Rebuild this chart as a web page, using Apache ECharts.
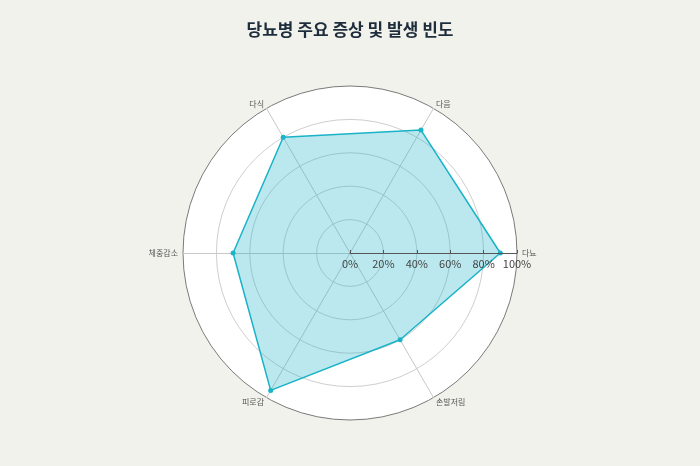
<!DOCTYPE html>
<html><head><meta charset="utf-8">
<script src="https://cdn.jsdelivr.net/npm/echarts@6/dist/echarts.min.js"></script>
<style>html,body{margin:0;padding:0;background:#f2f2ed;}#c{width:700px;height:466px;}</style>
</head><body><div id="c"></div>
<script>
const symptoms = ['다뇨', '다음', '다식', '체중감소', '피로감', '손발저림'];
const frequency = [90, 85, 80, 70, 95, 60];
const radiusTicks = [0, 20, 40, 60, 80, 100];
const titleText = '당뇨병 주요 증상 및 발생 빈도';

const font = '"Noto Sans CJK KR", "Noto Sans", sans-serif';
const chart = echarts.init(document.getElementById('c'));
chart.setOption({
  backgroundColor: '#f2f2ed',
  title: {
    text: titleText, left: 'center', top: 16,
    textStyle: { fontFamily: font, fontSize: 17, fontWeight: 'bold', color: '#1e2d3b' }
  },
  radar: {
    center: [350, 253], radius: 167, startAngle: 0, shape: 'circle',
    splitNumber: 5,
    indicator: symptoms.map(n => ({ name: n, min: 0, max: radiusTicks[radiusTicks.length - 1] })),
    axisName: { color: '#555', fontSize: 8, fontFamily: font },
    nameGap: 5,
    axisLine: { lineStyle: { color: '#c8c8c8', width: 1 } },
    splitLine: { lineStyle: { color: ['#cfcfcf', '#cfcfcf', '#cfcfcf', '#cfcfcf', '#cfcfcf', '#7a7a7a'], width: 1 } },
    splitArea: { show: true, areaStyle: { color: ['#ffffff'] } }
  },
  polar: { center: [350, 253], radius: 167 },
  angleAxis: { show: false, startAngle: 0, min: 0, max: 360 },
  radiusAxis: {
    min: 0, max: 100, interval: 20,
    axisLine: { show: true, lineStyle: { color: '#555', width: 1 } },
    axisTick: { show: true, inside: false, length: 3, lineStyle: { color: '#555' } },
    axisLabel: { formatter: '{value}%', fontSize: 11, color: '#444', fontFamily: font, margin: -5, verticalAlign: 'top' },
    splitLine: { show: false },
    z: 5
  },
  series: [{
    type: 'radar',
    symbol: 'circle', symbolSize: 5,
    lineStyle: { color: '#1ab3c8', width: 1.5 },
    itemStyle: { color: '#1ab3c8' },
    areaStyle: { color: '#1ab3c8', opacity: 0.3 },
    data: [{ value: frequency, name: '발생 빈도' }]
  }]
});
</script></body></html>
